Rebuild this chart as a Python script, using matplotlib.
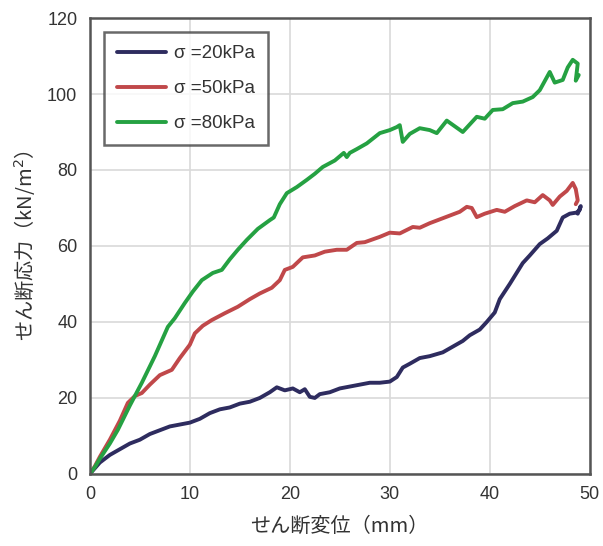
import matplotlib
matplotlib.use("Agg")
import matplotlib.pyplot as plt

plt.rcParams['font.family'] = ['Liberation Sans', 'Noto Sans CJK JP', 'DejaVu Sans']

# sigma = 20 kPa
x20 = [0, 0.5, 1, 1.5, 2, 3, 4, 5, 6, 7, 8, 9, 10, 11, 12, 13, 14, 15, 16, 17, 18, 18.7, 19.5, 20.3, 21, 21.5, 22, 22.5, 23,
       24, 25, 26, 27, 28, 29, 30, 30.7, 31.3, 32, 33, 34, 35.3, 36.3, 37.3, 38, 39, 39.7, 40.5, 41, 42, 43.3, 44, 45,
       45.8, 46.7, 47.3, 48, 48.7, 49, 49.1, 48.8]
y20 = [0, 1.5, 3, 4, 5, 6.5, 8, 9, 10.5, 11.5, 12.5, 13, 13.5, 14.5, 16, 17, 17.5, 18.5, 19, 20, 21.5, 22.8, 22, 22.5, 21.5, 22.3, 20.3, 20, 21,
       21.5, 22.5, 23, 23.5, 24, 24, 24.3, 25.5, 28, 29, 30.5, 31, 32, 33.5, 35, 36.5, 38, 40, 42.5, 46, 50, 55.5, 57.5, 60.5,
       62, 64, 67.5, 68.5, 68.8, 69.5, 70.5, 68.5]

# sigma = 50 kPa
x50 = [0, 0.5, 1, 2, 3, 3.8, 4.5, 5.2, 6, 7, 8.2, 9, 10, 10.5, 11.3, 12.2, 13.5, 14.8, 16, 17, 18.2, 19, 19.5, 20.3, 21.3,
       22.5, 23.5, 24.7, 25.7, 26.7, 27.5, 29, 30, 31, 32.3, 33, 34, 35, 36, 37, 37.7, 38.2, 38.7, 39.5, 40.7, 41.5,
       42.5, 43.7, 44.5, 45.3, 46, 46.3, 47, 47.7, 48.3, 48.6, 48.8, 48.6]
y50 = [0, 2, 4.5, 9, 14, 18.7, 20.5, 21.3, 23.5, 26, 27.4, 30.5, 34, 37, 39, 40.5, 42.3, 44, 46, 47.5, 49, 51, 53.7, 54.5, 57,
       57.5, 58.5, 59, 59, 60.8, 61, 62.4, 63.5, 63.3, 65, 64.8, 66, 67, 68, 69, 70.3, 70, 67.6, 68.5, 69.5, 69,
       70.5, 72, 71.5, 73.4, 72, 70.8, 73, 74.5, 76.6, 75, 72, 71]

# sigma = 80 kPa
x80 = [0, 0.5, 1, 2, 2.8, 4, 5.2, 6.5, 7.8, 8.5, 9.5, 10.3, 11.2, 12.3, 13.2, 14, 14.8, 15.7, 16.8, 18, 18.4, 19, 19.7,
       20.7, 21.7, 22.5, 23.3, 24.5, 25.4, 25.7, 26, 26.7, 27.7, 29, 30, 30.7, 31, 31.3, 32, 33, 34, 34.7, 35.7, 36.5,
       37.3, 38, 38.7, 39.5, 40.3, 41.3, 42.3, 43.3, 44.3, 45, 46, 46.5, 47.3, 47.8, 48.3, 48.8, 48.6, 48.9]
y80 = [0, 1.8, 4, 8, 11.6, 18, 24, 31, 38.7, 41, 45, 48, 51, 52.9, 53.7, 56.5, 59, 61.6, 64.5, 66.8, 67.5, 71, 73.9,
       75.5, 77.4, 79, 80.8, 82.5, 84.5, 83.4, 84.5, 85.5, 87, 89.7, 90.5, 91.3, 91.8, 87.4, 89.5, 91, 90.5, 89.7, 93, 91.5,
       90, 92, 94, 93.5, 95.8, 96, 97.6, 98, 99.2, 101, 105.8, 103, 103.7, 107, 109, 108, 103.5, 105]

series = [
    (x20, y20, '#2E2C5F', 'σ =20kPa'),
    (x50, y50, '#C0484A', 'σ =50kPa'),
    (x80, y80, '#25A142', 'σ =80kPa'),
]

fig = plt.figure(figsize=(6.03, 5.46), dpi=100)
ax = fig.add_axes([0.149, 0.132, 0.829, 0.835])

for xs, ys, c, lab in series:
    ax.plot(xs, ys, color=c, lw=2.8, label=lab, solid_joinstyle='round', solid_capstyle='round')

ax.set_xlim(0, 50)
ax.set_ylim(0, 120)
ax.set_xticks(range(0, 51, 10))
ax.set_yticks(range(0, 121, 20))
ax.grid(True, color='#D9D9D9', lw=1.2)
ax.set_axisbelow(True)
for s in ax.spines.values():
    s.set_color('#555555')
    s.set_linewidth(1.8)
ax.tick_params(length=0, labelsize=13, colors='#333333', pad=9)

jp = ['Noto Sans CJK JP', 'DejaVu Sans']
ax.set_xlabel('せん断変位（mm）', fontsize=14.5, family=jp, color='#333333', labelpad=9)
ax.set_ylabel('せん断応力（kN/m$^2$）', fontsize=14.5, family=jp, color='#333333', labelpad=7)

leg = ax.legend(loc='upper left', bbox_to_anchor=(0.028, 0.969), fontsize=13.5, frameon=True, fancybox=False,
                handlelength=2.6, borderpad=0.7, labelspacing=0.95, handletextpad=0.45, borderaxespad=0)
leg.get_frame().set_edgecolor('#444444')
leg.get_frame().set_linewidth(1.8)
for t in leg.get_texts():
    t.set_color('#333333')

fig.savefig('out.png', dpi=100)
